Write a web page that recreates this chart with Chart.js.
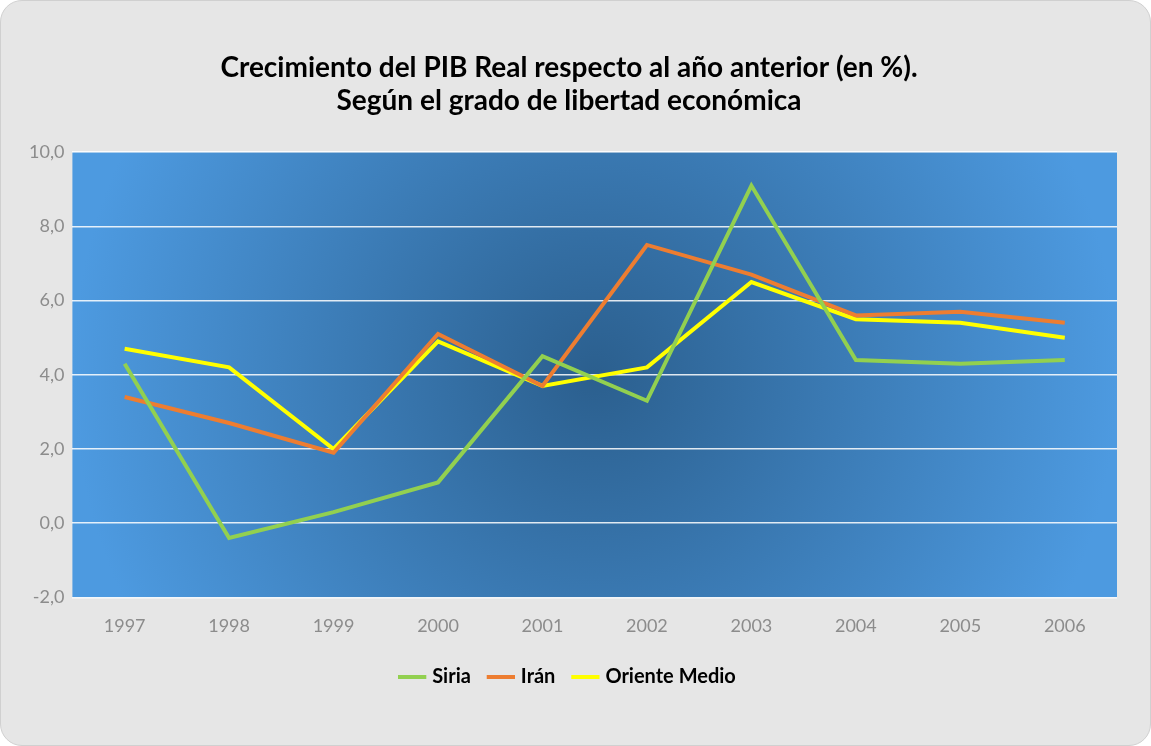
<!DOCTYPE html>
<html><head><meta charset="utf-8">
<script src="https://cdn.jsdelivr.net/npm/chart.js@4"></script>
<style>
html,body{margin:0;padding:0;background:#fff;}
#card{position:absolute;left:0;top:0;width:1149px;height:744px;background:#e6e6e6;border:1px solid #d0d0d0;border-radius:22px;}
canvas{position:absolute;left:0;top:0;}
</style></head><body>
<div id="card"><canvas id="c" width="1149" height="744"></canvas></div>
<script>
const years=['1997','1998','1999','2000','2001','2002','2003','2004','2005','2006'];
const siria=[4.3,-0.4,0.3,1.1,4.5,3.3,9.1,4.4,4.3,4.4];
const iran=[3.4,2.7,1.9,5.1,3.7,7.5,6.7,5.6,5.7,5.4];
const orienteMedio=[4.7,4.2,2.0,4.9,3.7,4.2,6.5,5.5,5.4,5.0];
const titleLines=['Crecimiento del PIB Real respecto al año anterior (en %).','Según el grado de libertad económica'];

const bgPlugin={id:'bg',beforeDraw(ch){
 const a=ch.chartArea,ctx=ch.ctx;
 const cx=(a.left+a.right)/2,cy=(a.top+a.bottom)/2;
 const g=ctx.createRadialGradient(cx,cy,0,cx,cy,(a.right-a.left)/2);
 g.addColorStop(0,'#2b5f8e');g.addColorStop(1,'#4d9ae0');
 ctx.save();ctx.fillStyle=g;ctx.fillRect(a.left,a.top,a.right-a.left,a.bottom-a.top);ctx.restore();
}};
Chart.defaults.font.family='Lato, "Open Sans", sans-serif';
new Chart(document.getElementById('c'),{
 type:'line',
 data:{labels:years,datasets:[
  {label:'Siria',data:siria,borderColor:'#92d050',backgroundColor:'#92d050',borderWidth:4},
  {label:'Irán',data:iran,borderColor:'#ed7d31',backgroundColor:'#ed7d31',borderWidth:4},
  {label:'Oriente Medio',data:orienteMedio,borderColor:'#ffff00',backgroundColor:'#ffff00',borderWidth:4}
 ]},
 options:{responsive:false,animation:false,
  elements:{line:{borderWidth:4,tension:0},point:{radius:0}},
  layout:{padding:{left:20,right:33,top:50,bottom:48}},
  plugins:{
   title:{display:true,text:titleLines,color:'#000',font:{size:28,weight:'bold'},padding:{top:0,bottom:34},lineHeight:1.3},
   legend:{position:'bottom',labels:{usePointStyle:true,pointStyle:'line',boxWidth:40,color:'#000',font:{size:20,weight:'bold'},padding:20}},
   tooltip:{enabled:false}
  },
  scales:{
   x:{offset:true,grid:{display:false},border:{display:false},ticks:{color:'#8c8c8c',font:{size:18},padding:10}},
   y:{min:-2,max:10,ticks:{stepSize:2,color:'#8c8c8c',font:{size:18},padding:8,callback:v=>v.toFixed(1).replace('.',',')},
      grid:{color:'rgba(255,255,255,0.85)',lineWidth:1.5,drawTicks:false},border:{display:false}}
  }
 },
 plugins:[bgPlugin]
});
</script></body></html>
